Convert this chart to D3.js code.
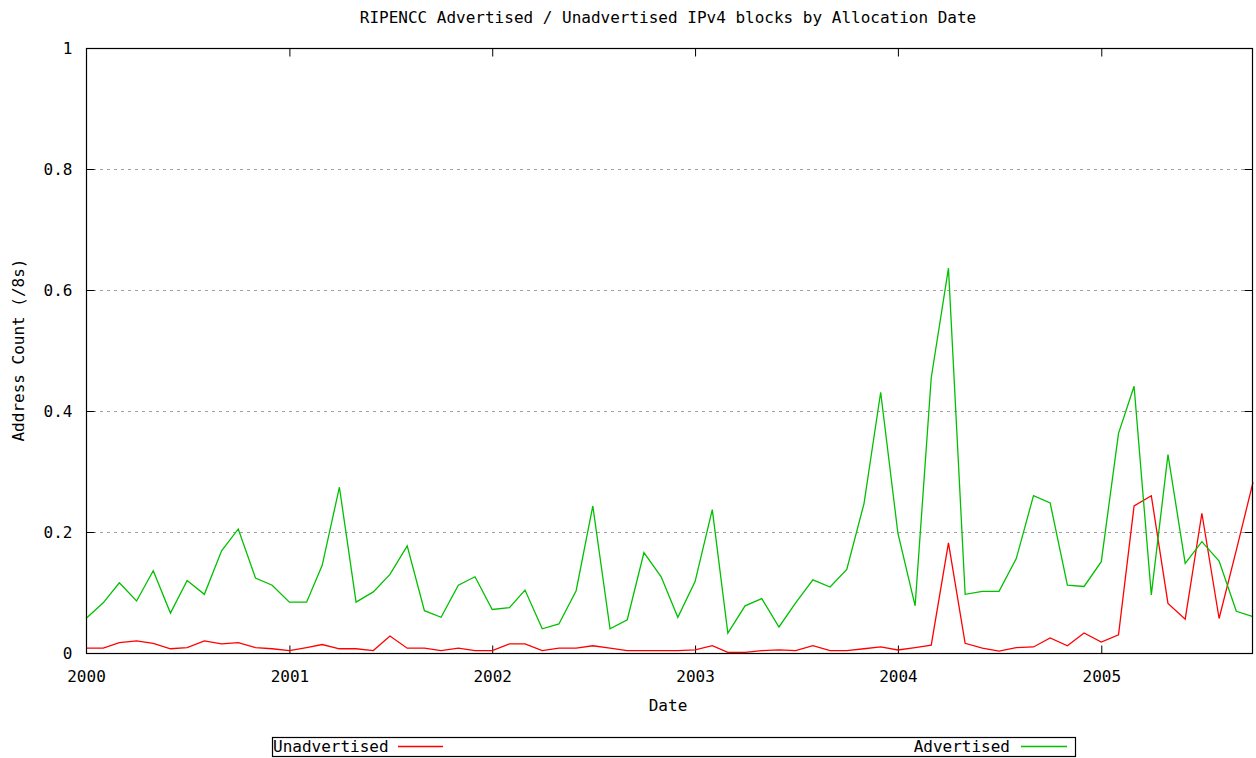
<!DOCTYPE html>
<html>
<head>
<meta charset="utf-8">
<script src="https://cdn.jsdelivr.net/npm/d3@7"></script>
<style>
  html, body { margin: 0; padding: 0; background: #fff; }
  svg { display: block; }
  text { font-family: "DejaVu Sans Mono", "Liberation Mono", monospace; font-size: 16px; fill: #000; }
</style>
</head>
<body>
<svg id="chart" width="1256" height="758"></svg>
<script>
const months = [
  "2000-01","2000-02","2000-03","2000-04","2000-05","2000-06","2000-07","2000-08","2000-09","2000-10","2000-11","2000-12",
  "2001-01","2001-02","2001-03","2001-04","2001-05","2001-06","2001-07","2001-08","2001-09","2001-10","2001-11","2001-12",
  "2002-01","2002-02","2002-03","2002-04","2002-05","2002-06","2002-07","2002-08","2002-09","2002-10","2002-11","2002-12",
  "2003-01","2003-02","2003-03","2003-04","2003-05","2003-06","2003-07","2003-08","2003-09","2003-10","2003-11","2003-12",
  "2004-01","2004-02","2004-03","2004-04","2004-05","2004-06","2004-07","2004-08","2004-09","2004-10","2004-11","2004-12",
  "2005-01","2005-02","2005-03","2005-04","2005-05","2005-06","2005-07","2005-08","2005-09","2005-10"
];
const unadvertised = [
  0.008,0.008,0.017,0.020,0.016,0.007,0.009,0.020,0.015,0.017,0.009,0.007,
  0.004,0.009,0.014,0.007,0.007,0.004,0.028,0.008,0.008,0.004,0.008,0.004,
  0.004,0.015,0.015,0.004,0.008,0.008,0.012,0.008,0.004,0.004,0.004,0.004,
  0.005,0.012,0.001,0.001,0.004,0.005,0.004,0.012,0.004,0.004,0.007,0.010,
  0.005,0.009,0.013,0.182,0.016,0.008,0.003,0.009,0.010,0.025,0.012,0.033,
  0.018,0.030,0.243,0.260,0.082,0.056,0.231,0.057,0.170,0.282
];
const advertised = [
  0.057,0.083,0.116,0.086,0.136,0.066,0.120,0.097,0.169,0.205,0.124,0.112,
  0.084,0.084,0.145,0.274,0.084,0.101,0.130,0.177,0.070,0.059,0.112,0.126,
  0.072,0.075,0.104,0.040,0.048,0.103,0.243,0.040,0.055,0.166,0.126,0.059,
  0.118,0.237,0.033,0.078,0.090,0.043,0.083,0.121,0.109,0.138,0.247,0.431,
  0.198,0.078,0.455,0.636,0.097,0.102,0.102,0.156,0.260,0.248,0.112,0.110,
  0.151,0.363,0.441,0.096,0.328,0.148,0.184,0.152,0.069,0.060
];
const yTicks = [0, 0.2, 0.4, 0.6, 0.8, 1];
const yTickLabels = ["0", "0.2", "0.4", "0.6", "0.8", "1"];
const xTickLabels = ["2000", "2001", "2002", "2003", "2004", "2005"];
const seriesNames = ["Unadvertised", "Advertised"];
const seriesColors = ["#ff0000", "#00c000"];

const svg = d3.select("#chart");
const W = 1256, H = 758;
const L = 86, R = 1253, T = 48, B = 653;
const parse = d3.utcParse("%Y-%m");
const dates = months.map(parse);

const x = d3.scaleUtc().domain([parse("2000-01"), parse("2005-10")]).range([L, R]);
const y = d3.scaleLinear().domain([0, 1]).range([B, T]);

// grid
svg.append("g").selectAll("line")
  .data(yTicks.filter(v => v > 0 && v < 1))
  .join("line")
  .attr("x1", L).attr("x2", R)
  .attr("y1", d => Math.round(y(d)) + 0.5).attr("y2", d => Math.round(y(d)) + 0.5)
  .attr("stroke", "#a0a0a0").attr("stroke-width", 1).attr("stroke-dasharray", "3,4");

// axes with inward ticks
const tickLen = 8;
const yAxisL = d3.axisLeft(y).tickValues(yTicks).tickFormat((d, i) => yTickLabels[i]).tickSize(-tickLen).tickPadding(tickLen + 6);
const gL = svg.append("g").attr("transform", `translate(${L + 0.5},0)`).call(yAxisL);
const yAxisR = d3.axisRight(y).tickValues(yTicks).tickFormat("").tickSize(-tickLen);
const gR = svg.append("g").attr("transform", `translate(${R - 0.5},0)`).call(yAxisR);
const xYears = xTickLabels.map(s => d3.utcParse("%Y")(s));
const xAxisB = d3.axisBottom(x).tickValues(xYears).tickFormat((d, i) => xTickLabels[i]).tickSize(-tickLen).tickPadding(tickLen + 9);
const gB = svg.append("g").attr("transform", `translate(0,${B + 0.5})`).call(xAxisB);
const xAxisT = d3.axisTop(x).tickValues(xYears).tickFormat("").tickSize(-tickLen);
const gT = svg.append("g").attr("transform", `translate(0,${T + 0.5})`).call(xAxisT);
[gL, gR, gB, gT].forEach(g => {
  g.select(".domain").remove();
  g.selectAll(".tick line").attr("stroke", "#000");
  g.selectAll("text").style("font-family", "'DejaVu Sans Mono', monospace").style("font-size", "16px").attr("fill", "#000");
});

// lines
const line = d3.line().x((d, i) => x(dates[i])).y(d => y(d));
[unadvertised, advertised].forEach((s, k) => {
  svg.append("path").datum(s)
    .attr("d", line)
    .attr("fill", "none")
    .attr("stroke", seriesColors[k])
    .attr("stroke-width", 1.3)
    .attr("stroke-linejoin", "miter");
});

// frame
svg.append("rect").attr("x", L + 0.5).attr("y", T + 0.5).attr("width", R - L - 1).attr("height", B - T)
  .attr("fill", "none").attr("stroke", "#000").attr("stroke-width", 1.2);

// title & labels
svg.append("text").attr("x", 668).attr("y", 23).attr("text-anchor", "middle")
  .text("RIPENCC Advertised / Unadvertised IPv4 blocks by Allocation Date");
svg.append("text").attr("x", 668).attr("y", 711).attr("text-anchor", "middle").text("Date");
svg.append("text").attr("transform", "translate(24,350) rotate(-90)").attr("text-anchor", "middle")
  .text("Address Count (/8s)");

// legend
svg.append("rect").attr("x", 272.5).attr("y", 737.5).attr("width", 803).attr("height", 19)
  .attr("fill", "none").attr("stroke", "#000").attr("stroke-width", 1.2);
svg.append("text").attr("x", 273).attr("y", 752).text(seriesNames[0]);
svg.append("line").attr("x1", 398).attr("x2", 443).attr("y1", 746.5).attr("y2", 746.5)
  .attr("stroke", seriesColors[0]).attr("stroke-width", 1.3);
svg.append("text").attr("x", 1010).attr("y", 752).attr("text-anchor", "end").text(seriesNames[1]);
svg.append("line").attr("x1", 1021).attr("x2", 1067).attr("y1", 746.5).attr("y2", 746.5)
  .attr("stroke", seriesColors[1]).attr("stroke-width", 1.3);
</script>
</body>
</html>
